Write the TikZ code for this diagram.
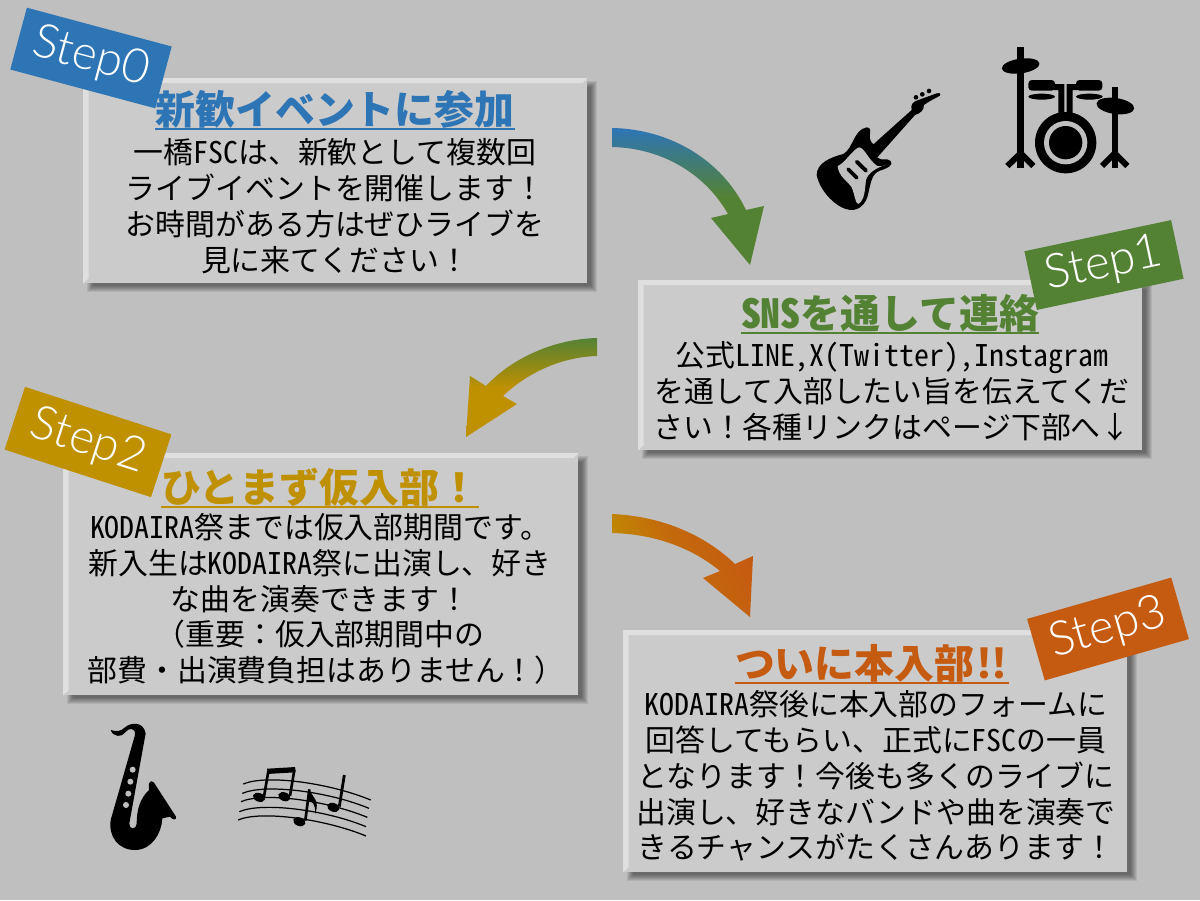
\documentclass[tikz,border=0pt]{standalone}
\usepackage{fontspec}
\setmainfont{Noto Sans CJK JP}
\newfontfamily\halffont{Noto Sans CJK JP}[RawFeature=+hwid]
\newfontfamily\stepfont{Lato Light}
\newcommand{\hw}[1]{{\halffont #1}}
\usepackage{tikz}

\definecolor{stepblue}{HTML}{2E75B6}
\definecolor{stepgreen}{HTML}{548235}
\definecolor{stepgold}{HTML}{BF9000}
\definecolor{steporange}{HTML}{C55A11}
\definecolor{backgray}{HTML}{BFBFBF}
\definecolor{panelgray}{HTML}{CBCBCB}
\definecolor{bevelgray}{HTML}{DFDFDF}

\tikzset{
    paneltext/.style={font=\fontsize{17}{20.4}\selectfont, align=center, inner sep=0pt, text=black},
    paneltitle/.style={font=\fontsize{22.7}{24}\selectfont\bfseries, anchor=south, inner sep=0pt, text depth=2.2pt},
    titleline/.style={line width=1.1pt},
    steptag/.style={minimum width=3cm, minimum height=1.28cm, inner sep=0pt, text=white, font=\fontsize{27}{30}\stepfont},
    icon/.style={fill=black, draw=none},
    iconhole/.style={fill=backgray, draw=none}
}

% panel with soft shadow and light top and left edge: name, x, y, width, height
\newcommand{\softpanel}[5]{
    \foreach \d in {-3,...,3}
        \fill[black, opacity=0.08] (#2+7-\d,#3+6-\d) rectangle (#2+#4+7+\d,#3+#5+6+\d);
    \node (#1) [anchor=north west, fill=panelgray, inner sep=0pt, minimum width=#4*0.02cm, minimum height=#5*0.02cm] at (#2,#3) {};
    \fill[bevelgray] (#1.north west) -- (#1.north east) -- ++(-5,5) -- ++(-#4+10,0) -- ++(0,#5-10) -- (#1.south west) -- cycle;
}

\begin{document}
\begin{tikzpicture}[x=0.02cm,y=-0.02cm]
    \useasboundingbox (0,0) rectangle (1200,900);
    \fill[backgray] (0,0) rectangle (1200,900);

    % panels
    \softpanel{boxzero}{83}{78}{504}{205}
    \softpanel{boxone}{638}{280}{504}{170}
    \softpanel{boxtwo}{63}{453}{515}{242}
    \softpanel{boxthree}{623}{630}{504}{242}

    % panel texts
    \node (titlezero) [paneltitle, text=stepblue] at (335,129) {新歓イベントに参加};
    \draw[titleline, stepblue] (titlezero.south west) -- (titlezero.south east);
    \node (textzero) [paneltext] at (335,206) {一橋\hw{FSC}は、新歓として複数回\\ライブイベントを開催します！\\お時間がある方はぜひライブを\\見に来てください！};

    \node (titleone) [paneltitle, text=stepgreen] at (890,333) {\hw{SNS}を通して連絡};
    \draw[titleline, stepgreen] (titleone.south west) -- (titleone.south east);
    \node (textone) [paneltext] at (892,391) {公式\hw{LINE,X(Twitter),Instagram}\\を通して入部したい旨を伝えてくだ\\さい！各種リンクはページ下部へ↓};

    \node (titletwo) [paneltitle, text=stepgold] at (320,507) {ひとまず仮入部！};
    \draw[titleline, stepgold] (titletwo.south west) -- (titletwo.south east);
    \node (texttwo) [paneltext] at (320,599) {\hw{KODAIRA}祭までは仮入部期間です。\\新入生は\hw{KODAIRA}祭に出演し、好き\\な曲を演奏できます！\\（重要：仮入部期間中の\hspace*{9pt}\\\hspace*{7pt}部費・出演費負担はありません！）};

    \node (titlethree) [paneltitle, text=steporange] at (872,683) {ついに本入部\hw{!\kern-3pt!}};
    \draw[titleline, steporange] (titlethree.south west) -- (titlethree.south east);
    \node (textthree) [paneltext] at (876,776) {\hw{KODAIRA}祭後に本入部のフォームに\\回答してもらい、正式に\hw{FSC}の一員\\となります！今後も多くのライブに\\出演し、好きなバンドや曲を演奏で\\きるチャンスがたくさんあります！};

    % step tags
    \node (stepzero) [steptag, fill=stepblue, rotate=-15] at (91,58) {Step0};
    \node (stepone) [steptag, fill=stepgreen, rotate=12, minimum height=1.2cm] at (1104,265) {Step1};
    \node (steptwo) [steptag, fill=stepgold, rotate=-18, minimum width=3.08cm, minimum height=1.32cm] at (88,442) {Step2};
    \node (stepthree) [steptag, fill=steporange, rotate=16] at (1108,629) {Step3};

    % arrows
    \shade[top color=stepblue, bottom color=stepgreen, middle color=stepgreen]
        (612,128) .. controls (670,129) and (722,160) .. (746,210) -- (764,206) -- (750,265) -- (711,218) -- (728,214)
        .. controls (704,172) and (660,148) .. (612,147) -- cycle;
    \shade[top color=stepgreen, bottom color=stepgold, middle color=stepgold]
        (597,338) .. controls (554,339) and (512,358) .. (486,386) -- (470,376) -- (466,437) -- (517,404) -- (503,396)
        .. controls (526,374) and (560,357) .. (597,356) -- cycle;
    \shade[left color=stepgold, right color=steporange, middle color=steporange!70!stepgold, shading angle=115]
        (612,514) .. controls (660,516) and (704,534) .. (735,564) -- (753,556) -- (750,617) -- (703,578) -- (720,571)
        .. controls (692,548) and (655,534) .. (612,533) -- cycle;

    % guitar
    \begin{scope}[shift={(800,80)},x=0.00667cm,y=-0.00667cm]
        \fill[icon] (420,47) .. controls (400,58) and (385,65) .. (372,75) .. controls (372,92) and (360,100) .. (345,105)
            -- (232,232) .. controls (245,245) and (260,232) .. (272,243) .. controls (282,255) and (262,265) .. (240,272)
            .. controls (215,280) and (212,310) .. (205,340) .. controls (198,375) and (175,392) .. (150,390)
            .. controls (110,385) and (60,335) .. (50,285) .. controls (50,250) and (90,232) .. (130,222)
            .. controls (160,205) and (160,150) .. (200,142) .. controls (225,145) and (195,170) .. (220,193)
            -- (335,90) .. controls (330,75) and (340,65) .. (350,62) -- (410,40) .. controls (420,38) and (425,42) .. (420,47) -- cycle;
        \fill[iconhole] (113,258) .. controls (135,250) and (160,205) .. (178,202) .. controls (195,205) and (205,240) .. (232,258)
            .. controls (240,262) and (250,258) .. (258,254) .. controls (235,262) and (205,275) .. (198,300)
            .. controls (195,325) and (195,360) .. (175,372) .. controls (165,370) and (165,345) .. (155,322)
            .. controls (145,305) and (115,290) .. (113,258) -- cycle;
        \draw[line width=2.2pt, line cap=round] (170,245) -- (198,272) (145,268) -- (170,293);
        \foreach \px/\py in {348/52,367/43,387/33}
            \fill[icon] (\px,\py) circle (7);
    \end{scope}

    % drums
    \begin{scope}[shift={(1000,40)},x=0.00667cm,y=-0.00667cm]
        \fill[icon] (52,22) rectangle (72,385);
        \fill[icon] (335,142) rectangle (353,385);
        \fill[icon, rotate around={8:(62,78)}] (62,78) ellipse (57 and 22);
        \fill[icon, rotate around={-8:(346,198)}] (346,198) ellipse (57 and 24);
        \draw[line width=3.4pt] (62,340) -- (22,378) (62,340) -- (100,378);
        \draw[line width=3.4pt] (344,340) -- (306,378) (344,340) -- (382,378);
        \fill[icon] (197,308) circle (92);
        \fill[iconhole] (197,308) circle (65);
        \fill[icon] (197,308) circle (50);
        \fill[icon, rounded corners=2pt] (85,152) -- (85,120) -- (165,120) -- (165,152) -- cycle;
        \fill[icon, rounded corners=2pt] (228,152) -- (228,120) -- (307,120) -- (307,152) -- cycle;
        \fill[icon] (125,170) ellipse (40 and 9);
        \fill[icon] (268,170) ellipse (40 and 9);
        \fill[icon] (160,132) -- (193,132) -- (193,220) -- (175,220) -- (175,150) -- (160,150) -- cycle;
        \fill[icon] (233,132) -- (200,132) -- (200,220) -- (218,220) -- (218,150) -- (233,150) -- cycle;
    \end{scope}

    % saxophone
    \begin{scope}[shift={(80,700)},x=0.00667cm,y=-0.00667cm]
        \fill[icon] (92,90) .. controls (110,95) and (122,95) .. (135,82) .. controls (150,68) and (190,62) .. (197,100)
            -- (148,370) .. controls (146,388) and (168,392) .. (170,370) .. controls (170,330) and (180,295) .. (207,270)
            -- (207,250) .. controls (212,242) and (218,242) .. (222,248) -- (288,350) .. controls (290,360) and (280,362) .. (270,350)
            -- (247,355) .. controls (245,400) and (215,450) .. (165,450) .. controls (115,450) and (85,410) .. (92,360)
            -- (165,105) .. controls (168,82) and (145,82) .. (135,98) .. controls (125,112) and (100,112) .. (92,90) -- cycle;
        \foreach \px/\py in {158/209,151/245,145/281,138/315}
            \fill[iconhole] (\px,\py) circle (9);

    % staff and notes
        \foreach \ya/\xa/\yb/\xb in {252/490/300/872,280/487/325/867,305/483/352/862,335/478/380/858,360/474/408/858}
            \draw[line width=0.7pt] (\xa,\ya) .. controls (\xa+70,\ya-30) and (\xb-120,\yb-50) .. (\xb,\yb);
        \foreach \nx/\ny in {537/292,613/290,658/365,760/322}
            \fill[icon, rotate around={-20:(\nx,\ny)}] (\nx,\ny) ellipse (19 and 13);
        \draw[line width=1.5pt] (552,290) -- (565,214) (630,288) -- (643,210);
        \draw[line width=3pt] (562,214) -- (646,209);
        \draw[line width=1.5pt] (676,362) -- (688,268);
        \fill[icon] (688,268) .. controls (695,290) and (722,300) .. (705,342) .. controls (708,310) and (695,305) .. (685,300) -- cycle;
        \draw[line width=1.6pt] (778,320) -- (793,225);
    \end{scope}
\end{tikzpicture}
\end{document}
